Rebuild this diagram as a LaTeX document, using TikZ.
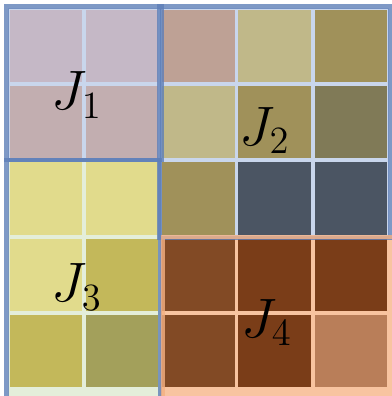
\documentclass[tikz,border=0pt]{standalone}
\usepackage{amsmath}
\usetikzlibrary{calc}

% cell colours
\definecolor{lila}{HTML}{C5B8C6}
\definecolor{rose}{HTML}{C2AEB0}
\definecolor{taupe}{HTML}{BEA195}
\definecolor{sand}{HTML}{C0B889}
\definecolor{olive}{HTML}{A0915A}
\definecolor{moss}{HTML}{807A57}
\definecolor{slate}{HTML}{4B5563}
\definecolor{lemon}{HTML}{E1DB8C}
\definecolor{mustard}{HTML}{C3B85A}
\definecolor{sage}{HTML}{A3A05B}
\definecolor{rust}{HTML}{824A25}
\definecolor{umber}{HTML}{7A3D18}
\definecolor{clay}{HTML}{B97E59}
% gaps and frames
\definecolor{gapblue}{HTML}{C9D6EC}
\definecolor{gapgreen}{HTML}{E4EEDA}
\definecolor{gaporange}{HTML}{F8C4A0}
\definecolor{frameblue}{HTML}{5E7FB8}
\definecolor{frameorange}{HTML}{F4B183}

\tikzset{
  frame/.style={line width=0.055cm, draw opacity=0.8},
  blocklabel/.style={font=\fontsize{21}{25}\selectfont}
}

\begin{document}
\begin{tikzpicture}[x=1cm,y=-1cm]
    \useasboundingbox (-0.105,-0.105) rectangle (5.039,5.092);
    % background of the four blocks
    \fill[gapblue] (0,0) rectangle (5,3);
    \fill[gapgreen] (0,2) rectangle (2,5.1);
    \fill[gaporange] (2,3) rectangle (5.1,5.1);
    % the cells
    \foreach \c/\r/\col in {0/0/lila,1/0/lila,2/0/taupe,3/0/sand,4/0/olive,
                            0/1/rose,1/1/rose,2/1/sand,3/1/olive,4/1/moss,
                            0/2/lemon,1/2/lemon,2/2/olive,3/2/slate,4/2/slate,
                            0/3/lemon,1/3/mustard,2/3/rust,3/3/umber,4/3/umber,
                            0/4/mustard,1/4/sage,2/4/rust,3/4/umber,4/4/clay}
    {\fill[\col] (\c+0.025,\r+0.025) rectangle (\c+0.975,\r+0.975);}
    % block frames
    \draw[frame, frameblue] (-0.02,-0.02) rectangle (2.02,2);
    \draw[frame, frameblue] (-0.02,2) rectangle (2,5.2);
    \draw[frame, frameblue] (1.98,-0.02) rectangle (5.02,3.02);
    \draw[frame, frameorange] (2.03,3.01) rectangle (5.2,5.2);
    % labels
    \node[blocklabel] (j1) at (0.905,1.14) {$J_1$};
    \node[blocklabel] (j2) at (3.37,1.61) {$J_2$};
    \node[blocklabel] (j3) at (0.905,3.66) {$J_3$};
    \node[blocklabel] (j4) at (3.40,4.13) {$J_4$};
\end{tikzpicture}
\end{document}
